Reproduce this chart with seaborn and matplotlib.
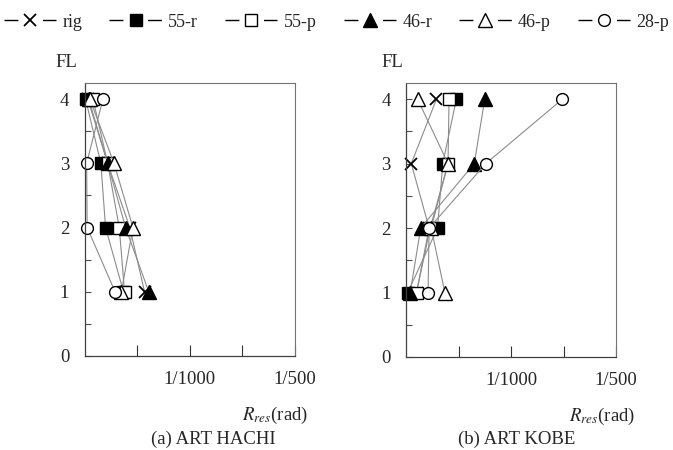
import numpy as np
import pandas as pd
import matplotlib
matplotlib.use("Agg")
import matplotlib.pyplot as plt
from matplotlib.lines import Line2D
import seaborn as sns

# ---------------- data ----------------
FL = [1, 2, 3, 4]
SERIES = ["rig", "55-r", "55-p", "46-r", "46-p", "28-p"]

# (a) ART HACHI : residual drift (rad) at floors 1..4
hachi_rig = [0.00057, 0.00043, 0.00022, 0.00003]
hachi_55r = [0.00037, 0.00020, 0.000155, 0.00001]
hachi_55p = [0.00038, 0.00033, 0.00022, 0.00008]
hachi_46r = [0.00061, 0.00039, 0.00022, 0.00004]
hachi_46p = [0.00035, 0.00046, 0.00028, 0.00005]
hachi_28p = [0.00029, 0.000025, 0.00002, 0.000175]

# (b) ART KOBE
kobe_rig = [0.00010, 0.00022, 0.00005, 0.00029]
kobe_55r = [0.000016, 0.00030, 0.00035, 0.00048]
kobe_55p = [0.00010, 0.00023, 0.00040, 0.00041]
kobe_46r = [0.00004, 0.00014, 0.00065, 0.00075]
kobe_46p = [0.00037, 0.00024, 0.00040, 0.00011]
kobe_28p = [0.00021, 0.00022, 0.00076, 0.00149]

PANELS = ["(a) ART HACHI", "(b) ART KOBE"]
X_TICKS = [0.0005, 0.001, 0.0015, 0.002]
X_TICK_LABELS = ["", "1/1000", "", "1/500"]
Y_TICKS = [0, 1, 2, 3, 4]

panel_data = {
    PANELS[0]: [hachi_rig, hachi_55r, hachi_55p, hachi_46r, hachi_46p, hachi_28p],
    PANELS[1]: [kobe_rig, kobe_55r, kobe_55p, kobe_46r, kobe_46p, kobe_28p],
}
rows = []
for p, lists in panel_data.items():
    for s, vals in zip(SERIES, lists):
        for f, v in zip(FL, vals):
            rows.append({"panel": p, "series": s, "FL": f, "R": v})
df = pd.DataFrame(rows)

# ---------------- style ----------------
sns.set_theme(style="ticks")
plt.rcParams["font.family"] = ["Liberation Serif", "DejaVu Serif"]
plt.rcParams["mathtext.fontset"] = "stix"

STY = {
    "rig": dict(marker="x", markerfacecolor="black", markersize=8, markeredgewidth=1.3),
    "55-r": dict(marker="s", markerfacecolor="black", markersize=8.5, markeredgewidth=1.0),
    "55-p": dict(marker="s", markerfacecolor="white", markersize=8.5, markeredgewidth=1.0),
    "46-r": dict(marker="^", markerfacecolor="black", markersize=9.5, markeredgewidth=1.0),
    "46-p": dict(marker="^", markerfacecolor="white", markersize=9.5, markeredgewidth=1.0),
    "28-p": dict(marker="o", markerfacecolor="white", markersize=8.5, markeredgewidth=1.0),
}

fig = plt.figure(figsize=(6.73, 4.5), dpi=100)
axes = [
    fig.add_axes([0.1256, 0.2089, 0.3128, 0.6067]),
    fig.add_axes([0.6033, 0.2067, 0.3120, 0.6089]),
]

FS = 13.5
ylab_x = [-0.088, -0.067]
xlab_x = [0.905, 0.933]
cap_x = [0.3165, 0.768]

for i, (ax, p) in enumerate(zip(axes, PANELS)):
    sub = df[df["panel"] == p]
    for s in SERIES:
        d = sub[sub["series"] == s]
        sns.lineplot(data=d, x="R", y="FL", ax=ax, orient="y", sort=True,
                     estimator=None, color="0.55", lw=0.8,
                     markeredgecolor="black", clip_on=False, legend=False,
                     **STY[s])
    ax.set_xlim(0, 0.002)
    ax.set_ylim(0, 4.25)
    ax.set_xticks(X_TICKS, labels=X_TICK_LABELS)
    ax.set_yticks(Y_TICKS, labels=[str(v) for v in Y_TICKS])
    ax.set_yticks([0.5, 1.5, 2.5, 3.5], minor=True)
    ax.tick_params(axis="x", direction="in", length=8, width=0.8, pad=11,
                   labelsize=FS, color="0.2")
    ax.tick_params(axis="y", which="both", direction="in", length=4, width=0.8,
                   pad=11, labelsize=FS, color="0.3")
    for sp in ax.spines.values():
        sp.set_visible(True)
        sp.set_color("0.25")
        sp.set_linewidth(0.9)
    for sp in ("top", "right"):
        ax.spines[sp].set_color("0.45")
        ax.spines[sp].set_linewidth(0.8)
    ax.set_ylabel("FL", rotation=0, fontsize=FS)
    ax.yaxis.set_label_coords(ylab_x[i], 1.045)
    ax.set_xlabel(r"$R_{res}$(rad)", fontsize=FS)
    ax.xaxis.set_label_coords(xlab_x[i], -0.18)
    fig.text(cap_x[i], 0.024, p, ha="center", va="center", fontsize=FS)

handles = [
    Line2D([], [], color="black", lw=1.0, linestyle=(0, (10, 17.7)),
           markeredgecolor="black", **STY[s])
    for s in SERIES
]
fig.legend(handles, SERIES, ncol=6, loc="center", bbox_to_anchor=(0.5, 0.951),
           frameon=False, fontsize=13, handlelength=2.9, handletextpad=0.35,
           columnspacing=1.5, borderaxespad=0)

fig.savefig("out.png", dpi=100)
